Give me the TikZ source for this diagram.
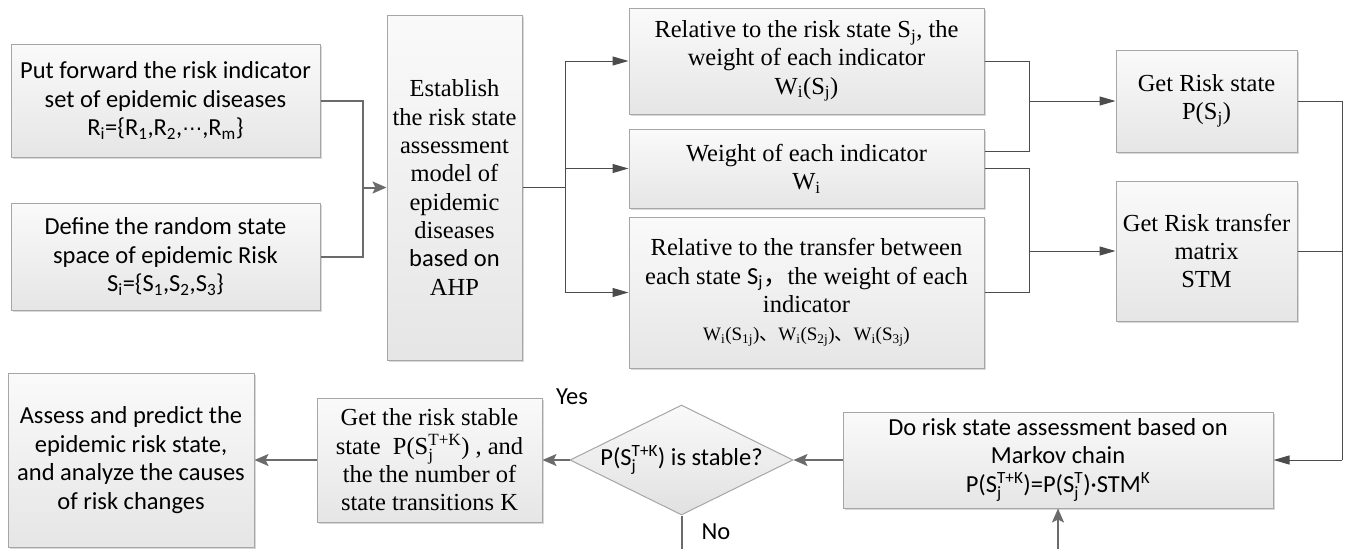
\documentclass[tikz,border=0pt]{standalone}
\usepackage{fontspec}
\usepackage{amsmath}
\setmainfont{Liberation Serif}
\setsansfont{Carlito}
\newfontfamily\cjkf{Noto Sans CJK SC}
\newfontfamily\djvf{DejaVu Sans}
\usetikzlibrary{shapes.geometric,arrows.meta,shadows}
\newcommand{\mysub}[1]{\ensuremath{_{\text{#1}}}}
\newcommand{\mysup}[1]{\ensuremath{^{\text{#1}}}}
\newcommand{\mysubsup}[2]{\ensuremath{_{\text{#1}}^{\text{#2}}}}
\begin{document}
\begin{tikzpicture}[x=1pt,y=-1pt,
  box/.style={draw=black!35, line width=1pt, top color=black!2, bottom color=black!10,
    inner sep=0pt, align=center,
    drop shadow={shadow xshift=2pt, shadow yshift=-2pt, fill=black!25, opacity=0.6}},
  sbox/.style={box, font=\sffamily\fontsize{24.5}{28.5}\selectfont},
  rbox/.style={box, font=\fontsize{24.5}{28.3}\selectfont},
  dia/.style={diamond, aspect=2.03, draw=black!35, line width=1pt, top color=black!2, bottom color=black!12,
    inner sep=0pt, minimum width=223, minimum height=110, font=\sffamily\fontsize{24.5}{28.5}\selectfont},
  lbl/.style={font=\sffamily\fontsize{24.5}{28.5}\selectfont, inner sep=0pt},
  gl/.style={draw=black!58, line width=2pt},
  ga/.style={gl, -{Stealth[length=14pt, width=12pt, inset=3pt]}},
  tl/.style={draw=black!70, line width=1pt},
  ta/.style={tl, -{Triangle[length=16pt, width=9pt]}}
]
\fill[white] (0,0) rectangle (1348,549);
\useasboundingbox (0,0) rectangle (1348,549);

% left column
\node[sbox, minimum width=309, minimum height=113] (A) at (165.5,100.5)
  {Put forward the risk indicator\\ set of epidemic diseases\\ R\mysub{i}=\{R\mysub{1},R\mysub{2},{\djvf\fontsize{20}{24}\selectfont ⋯},R\mysub{m}\}};
\node[sbox, minimum width=309, minimum height=107] (B) at (165.5,256.5)
  {Define the random state\\ space of epidemic Risk\\ S\mysub{i}=\{S\mysub{1},S\mysub{2},S\mysub{3}\}};

% AHP
\node[rbox, minimum width=135, minimum height=345] (AHP) at (454.5,187.5)
  {Establish\\ the risk state\\ assessment\\ model of\\ epidemic\\ diseases\\ \sffamily based on\\ AHP};

% middle column
\node[rbox, minimum width=355, minimum height=106] (T1) at (806.5,61)
  {Relative to the risk state S\mysub{j}, the\\ weight of each indicator\\ W\mysub{i}(S\mysub{j})};
\node[rbox, minimum width=355, minimum height=79] (T2) at (806.5,168.5)
  {Weight of each indicator\\ W\mysub{i}};
\node[rbox, minimum width=355, minimum height=151] (T3) at (806.5,292.5)
  {Relative to the transfer between\\ each state {\sffamily S\mysub{j}}{\cjkf ，}the weight of each\\ indicator\\
   {\fontsize{19}{24}\selectfont W\mysub{i}(S\mysub{1j}){\cjkf 、}W\mysub{i}(S\mysub{2j}){\cjkf 、}W\mysub{i}(S\mysub{3j})}};

% right column
\node[rbox, minimum width=181, minimum height=102] (RS) at (1206.5,101)
  {Get Risk state\\ P(S\mysub{j})};
\node[rbox, minimum width=181, minimum height=140] (STM) at (1206.5,251)
  {Get Risk transfer\\ matrix\\ STM};

% bottom row
\node[sbox, minimum width=430, minimum height=96] (MK) at (1058,460)
  {Do risk state assessment based on\\ Markov chain\\ P(S\mysubsup{j}{T+K})=P(S\mysubsup{j}{T})·STM\mysup{K}};
\node[dia] (D) at (681.5,460) {P(S\mysubsup{j}{T+K}) is stable?};
\node[rbox, minimum width=225, minimum height=124] (ST) at (429.5,460)
  {Get the risk stable\\ state \ P(S\mysubsup{j}{T+K}) , and\\ the the number of\\ state transitions K};
\node[sbox, minimum width=246, minimum height=174] (AS) at (131,460)
  {Assess and predict the\\ epidemic risk state,\\ and analyze the causes\\ of risk changes};

\node[lbl] (yes) at (572,397) {Yes};
\node[lbl] (no) at (716,532) {No};

% junction coordinates
\coordinate (jL) at (363,187.5);
\coordinate (jM) at (565,187.5);
\coordinate (jR1) at (1029,101);
\coordinate (jR2) at (1029,251);
\coordinate (jR3) at (1342,460);
\coordinate (noEnd) at (681.5,549);
\coordinate (upStart) at (1058,549);

% left connectors
\draw[gl] (A.east) -| (jL);
\draw[gl] (B.east) -| (jL);
\draw[ga] (jL) -- (AHP.west);

% AHP fan-out
\draw[tl] (AHP.east) -- (jM);
\draw[ta] (jM) |- (T1.west);
\draw[ta] (jM) |- (T2.west);
\draw[ta] (jM) |- (T3.west);

% into risk state / STM
\draw[tl] (T1.east) -| (jR1);
\draw[tl] ([yshift=17pt]T2.east) -| (jR1);
\draw[ta] (jR1) -- (RS.west);
\draw[tl] (T2.east) -| (jR2);
\draw[tl] (T3.east) -| (jR2);
\draw[ta] (jR2) -- (STM.west);

% into Markov
\draw[tl] (RS.east) -| (jR3);
\draw[tl] (STM.east) -| (jR3);
\draw[ta] (jR3) -- (MK.east);

% bottom flow
\draw[ga] (MK.west) -- (D.east);
\draw[ga] (D.west) -- (ST.east);
\draw[ga] (ST.west) -- (AS.east);
\draw[gl] (D.south) -- (noEnd);
\draw[ga] (upStart) -- (MK.south);
\end{tikzpicture}
\end{document}
